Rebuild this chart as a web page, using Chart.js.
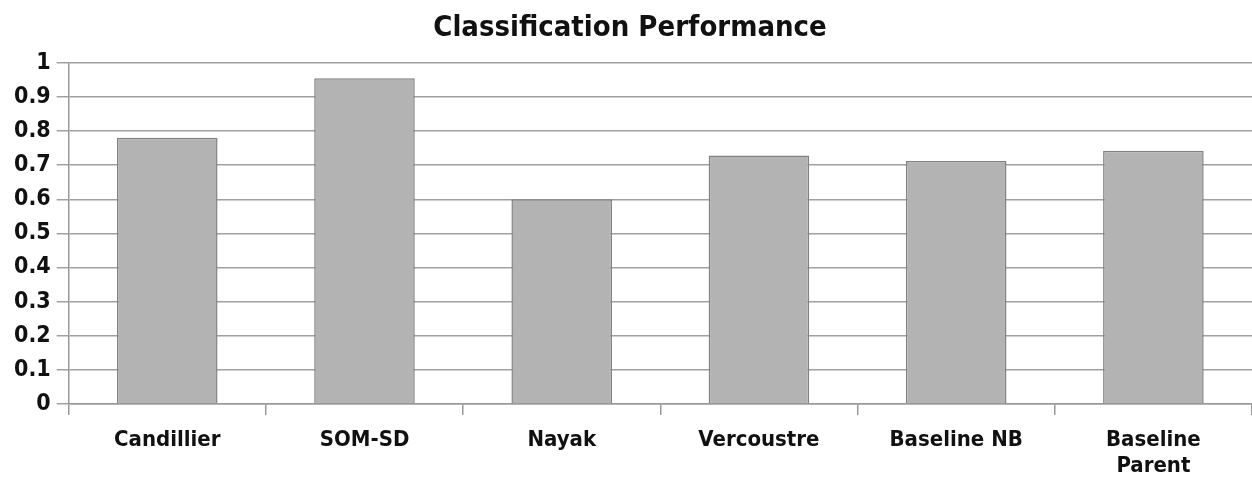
<!DOCTYPE html>
<html>
<head>
<meta charset="utf-8">
<script src="https://cdn.jsdelivr.net/npm/chart.js@4/dist/chart.umd.min.js"></script>
<style>
  html, body { margin: 0; padding: 0; background: #fff; }
  #wrap { width: 1252px; height: 480px; }
</style>
</head>
<body>
<div id="wrap"><canvas id="grafico"></canvas></div>
<script>
const titulo = "Classification Performance";
const categorias = ["Candillier", "SOM-SD", "Nayak", "Vercoustre", "Baseline NB", ["Baseline", "Parent"]];
const valores = [0.78, 0.955, 0.60, 0.728, 0.712, 0.742];
const ticksY = [0, 0.1, 0.2, 0.3, 0.4, 0.5, 0.6, 0.7, 0.8, 0.9, 1];

const fuente = "'DejaVu Sans Condensed', 'DejaVu Sans', sans-serif";

const config = {
  type: "bar",
  data: {
    labels: categorias,
    datasets: [{
      label: titulo,
      data: valores,
      backgroundColor: "#b3b3b3",
      borderColor: "#828282",
      borderWidth: 1.5,
      categoryPercentage: 1,
      barPercentage: 0.51
    }]
  },
  options: {
    responsive: true,
    maintainAspectRatio: false,
    animation: false,
    layout: { padding: { left: 8, right: 0, top: 0, bottom: 0 } },
    scales: {
      x: {
        offset: true,
        // alto fijo del eje x para que el area quede como en la imagen
        afterFit: (eje) => { eje.height = 76; },
        grid: {
          offset: true,
          drawOnChartArea: false,
          color: "#999",
          lineWidth: 1.5,
          tickLength: 11
        },
        border: { color: "#999", width: 1.5 },
        ticks: {
          color: "#111",
          font: { family: fuente, size: 22, weight: "bold", lineHeight: 1.2 },
          padding: 12,
          maxRotation: 0
        }
      },
      y: {
        min: 0,
        max: 1,
        afterBuildTicks: (eje) => { eje.ticks = ticksY.map(v => ({ value: v })); },
        grid: {
          color: "#a0a0a0",
          lineWidth: 1.5,
          tickLength: 12
        },
        border: { color: "#999", width: 1.5 },
        ticks: {
          color: "#111",
          font: { family: fuente, size: 23, weight: "bold" },
          padding: 6,
          callback: (v) => String(Math.round(v * 10) / 10)
        }
      }
    },
    plugins: {
      legend: { display: false },
      tooltip: { enabled: false },
      title: {
        display: true,
        text: titulo,
        color: "#111",
        font: { family: fuente, size: 29, weight: "bold" },
        padding: { top: 11, bottom: 17 }
      }
    }
  }
};

new Chart(document.getElementById("grafico"), config);
</script>
</body>
</html>
